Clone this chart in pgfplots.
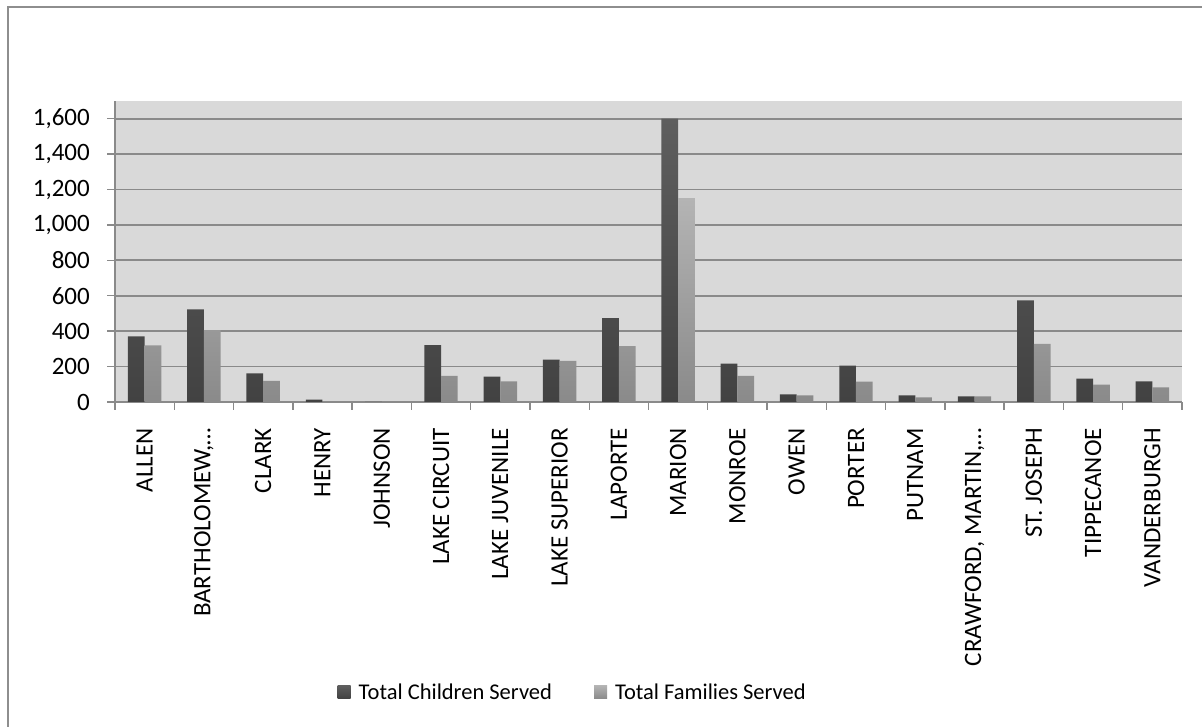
\documentclass[border=0pt]{standalone}
\usepackage{pgfplots}
\pgfplotsset{compat=1.18}
\usepackage{pgfplotstable}
\usepackage{fontspec}
\setmainfont{Carlito}

\definecolor{plotbg}{HTML}{D9D9D9}
\definecolor{gridgray}{HTML}{8A8A8A}
\definecolor{framegray}{HTML}{8E8E8E}
\definecolor{childtop}{HTML}{5E5E5E}
\definecolor{childbot}{HTML}{424242}
\definecolor{famtop}{HTML}{B4B4B4}
\definecolor{fambot}{HTML}{8A8A8A}

% county, children served, families served
\pgfplotstableread{
x children families
0 370 320
1 523 406
2 162 119
3 13 2
4 0 0
5 321 147
6 143 117
7 240 232
8 474 315
9 1600 1151
10 217 147
11 43 38
12 206 115
13 38 26
14 32 32
15 574 328
16 132 98
17 117 83
}\servedtable

\begin{document}
\begin{tikzpicture}
\path[use as bounding box] (0pt,0pt) rectangle (1202pt,727pt);
\draw[framegray, line width=1.6pt] (8pt,0pt) -- (8pt,720pt) -- (1202pt,720pt);

\begin{axis}[
  at={(115pt,325pt)}, anchor=south west,
  scale only axis,
  width=1067pt, height=301pt,
  xmin=-0.5, xmax=17.5,
  ymin=0, ymax=1700,
  ybar=0pt, bar width=16.7pt,
  axis x line*=bottom, axis y line*=left,
  axis line style={-, gridgray, line width=1.6pt},
  axis background/.style={fill=plotbg},
  ymajorgrids, grid style={gridgray, line width=1.8pt},
  tick align=outside, major tick length=8pt,
  tick style={gridgray, line width=1.4pt},
  ytick={0,200,...,1600},
  /pgf/number format/.cd, 1000 sep={,}, assume math mode=true, /pgfplots/.cd,
  xtick={-0.5,0.5,...,17.5},
  x tick label as interval,
  xticklabels={ALLEN,{BARTHOLOMEW,…},CLARK,HENRY,JOHNSON,LAKE CIRCUIT,LAKE JUVENILE,LAKE SUPERIOR,LAPORTE,MARION,MONROE,OWEN,PORTER,PUTNAM,{CRAWFORD, MARTIN,…},ST. JOSEPH,TIPPECANOE,VANDERBURGH},
  tick label style={font=\fontsize{25}{30}\selectfont, black},
  x tick label style={rotate=90, anchor=east, inner sep=0pt},
  xticklabel shift=18pt,
  yticklabel style={inner sep=0pt},
  yticklabel shift=17pt,
  legend columns=2,
  legend style={at={(0.429,-0.9635)}, anchor=center, draw=none, fill=none,
    font=\fontsize{22.5}{27}\selectfont,
    /tikz/every even column/.append style={column sep=40pt},
    cells={anchor=west, inner sep=3pt}},
  legend image code/.code={%
    \path[#1, draw=none] (0pt,-6.5pt) rectangle (13pt,6.5pt);
    \path (19pt,0pt);},
]
\addplot[draw=none, top color=childtop, bottom color=childbot] table[x=x, y=children] {\servedtable};
\addlegendentry{Total Children Served}
\addplot[draw=none, top color=famtop, bottom color=fambot] table[x=x, y=families] {\servedtable};
\addlegendentry{Total Families Served}
\end{axis}
\end{tikzpicture}
\end{document}
